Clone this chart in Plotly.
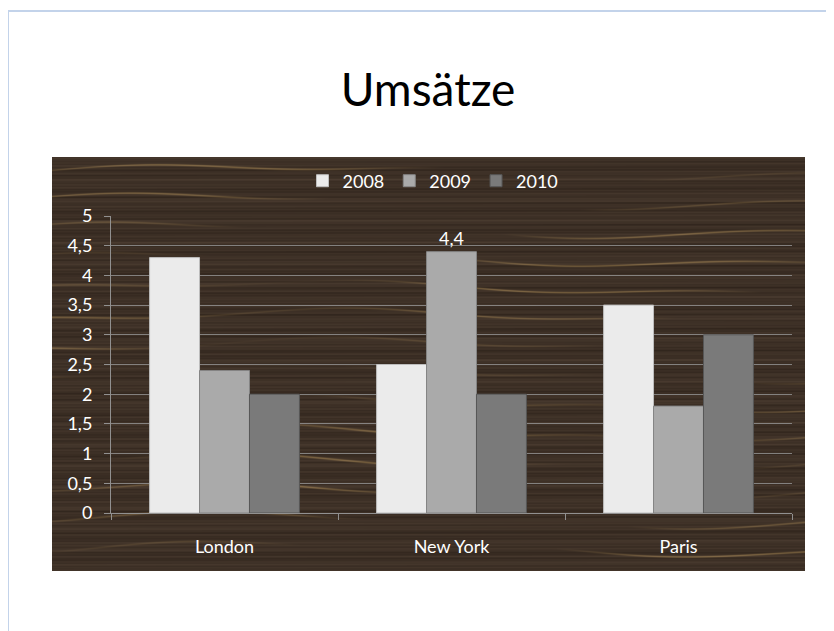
import base64
import struct
import zlib

import numpy as np
import plotly.graph_objects as go

# ---------------- data ----------------
categories = ["London", "New York", "Paris"]
series_names = ["2008", "2009", "2010"]
values_2008 = [4.3, 2.5, 3.5]
values_2009 = [2.4, 4.4, 1.8]
values_2010 = [2.0, 2.0, 3.0]
labels_2009 = ["", "4,4", ""]
y_tick_vals = [0, 0.5, 1, 1.5, 2, 2.5, 3, 3.5, 4, 4.5, 5]
y_tick_labels = ["0", "0,5", "1", "1,5", "2", "2,5", "3", "3,5", "4", "4,5", "5"]
title_text = "Umsätze"

# ---------------- geometry (pixels, screen coords; page body has 8px margin) ----------------
OFF = 8
W_FIG, H_FIG = 834, 631
PL, PR, PT, PB = 111 - OFF, 792 - OFF, 216 - OFF, 513 - OFF  # plot area in figure coords
PW, PH = PR - PL, PB - PT


def px_x(px):
    return (px - OFF - PL) / PW


def px_y(py):
    return (PB - (py - OFF)) / PH


# ---------------- procedural wood texture ----------------
def wood_png(w, h):
    yy, xx = np.mgrid[0:h, 0:w].astype(float)
    streak = (0.5 * np.sin(yy * 0.9 + 0.002 * xx) + 0.35 * np.sin(yy * 2.3 + 1.0)
              + 0.25 * np.sin(yy * 5.1 + 2.0) + 0.4 * np.sin(yy * 0.31 + xx / 400)
              + 0.3 * np.sin(yy * 1.7 + xx / 230))
    d = yy + 6 * np.sin(xx / 140 + 0.6 * np.sin(yy / 40)) + 3 * np.sin(xx / 53 + yy / 70)
    g = (d % 29) / 29
    lines = np.exp(-((g - 0.5) / 0.035) ** 2)
    amp = np.clip(0.3 + 0.9 * np.sin(xx / 120 + yy / 35) * np.sin(xx / 310 - yy / 90 + 1), 0, 1)
    light = lines * amp
    r = 61 + streak * 8 + light * 58
    gch = 48 + streak * 7 + light * 48
    b = 38 + streak * 6 + light * 26
    arr = np.clip(np.stack([r, gch, b], axis=-1), 0, 255).astype(np.uint8)
    raw = b"".join(b"\x00" + arr[i].tobytes() for i in range(h))

    def chunk(t, dat):
        c = struct.pack(">I", len(dat)) + t + dat
        return c + struct.pack(">I", zlib.crc32(t + dat) & 0xFFFFFFFF)

    png = (b"\x89PNG\r\n\x1a\n"
           + chunk(b"IHDR", struct.pack(">IIBBBBB", w, h, 8, 2, 0, 0, 0))
           + chunk(b"IDAT", zlib.compress(raw, 9))
           + chunk(b"IEND", b""))
    return "data:image/png;base64," + base64.b64encode(png).decode()


WX0, WX1, WY0, WY1 = 52, 805, 157, 571  # screen coords of the wood panel
wood = wood_png(WX1 - WX0, WY1 - WY0)

# ---------------- figure ----------------
font_family = "Lato, 'Open Sans', sans-serif"
axis_grey = "rgba(150,150,150,0.95)"
fig = go.Figure()
fig.add_trace(go.Bar(name=series_names[0], x=categories, y=values_2008,
                     marker=dict(color="#ebebeb", line=dict(color="#bdbdbd", width=1))))
fig.add_trace(go.Bar(name=series_names[1], x=categories, y=values_2009,
                     text=labels_2009, textposition="outside", cliponaxis=False,
                     textfont=dict(color="white", size=18, family=font_family),
                     marker=dict(color="#aaaaaa", line=dict(color="#858585", width=1))))
fig.add_trace(go.Bar(name=series_names[2], x=categories, y=values_2010,
                     marker=dict(color="#7a7a7a", line=dict(color="#575757", width=1))))

fig.update_layout(
    width=W_FIG, height=H_FIG,
    margin=dict(l=PL, r=W_FIG - PR, t=PT, b=H_FIG - PB, autoexpand=False),
    paper_bgcolor="white",
    plot_bgcolor="rgba(0,0,0,0)",
    barmode="group", bargap=0.34, bargroupgap=0,
    separators=",.",
    font=dict(family=font_family, color="white", size=18),
    title=dict(text=title_text, x=(428 - OFF) / W_FIG, xref="container", xanchor="center",
               y=1 - (90 - OFF) / H_FIG, yref="container", yanchor="middle",
               font=dict(size=46, color="black", family=font_family)),
    legend=dict(orientation="h", x=px_x(433), xanchor="center", y=px_y(181), yanchor="middle",
                font=dict(color="white", size=18), bgcolor="rgba(0,0,0,0)",
                itemwidth=30, tracegroupgap=0),
    showlegend=True,
    images=[dict(source=wood, xref="paper", yref="paper",
                 x=px_x(WX0), y=px_y(WY0),
                 sizex=(WX1 - WX0) / PW, sizey=(WY1 - WY0) / PH,
                 sizing="stretch", layer="below")],
    shapes=[
        dict(type="line", xref="paper", yref="paper", x0=px_x(8), x1=px_x(842),
             y0=px_y(11), y1=px_y(11), line=dict(color="#c3d3ea", width=2)),
        dict(type="line", xref="paper", yref="paper", x0=px_x(8), x1=px_x(8),
             y0=px_y(11), y1=px_y(640), line=dict(color="#c3d3ea", width=2)),
    ],
)

fig.update_yaxes(range=[0, 5], tickvals=y_tick_vals, ticktext=y_tick_labels,
                 showgrid=True, gridcolor="rgba(150,150,150,0.8)", gridwidth=1,
                 zeroline=False, showline=True, linecolor=axis_grey,
                 ticks="outside", ticklen=6, tickcolor=axis_grey,
                 ticklabelstandoff=8,
                 tickfont=dict(color="white", size=18))
fig.update_xaxes(showgrid=False, showline=True, linecolor=axis_grey,
                 ticks="outside", tickson="boundaries", ticklen=6,
                 tickcolor=axis_grey, ticklabelstandoff=17,
                 tickfont=dict(color="white", size=18))

fig.write_html("out.html")
